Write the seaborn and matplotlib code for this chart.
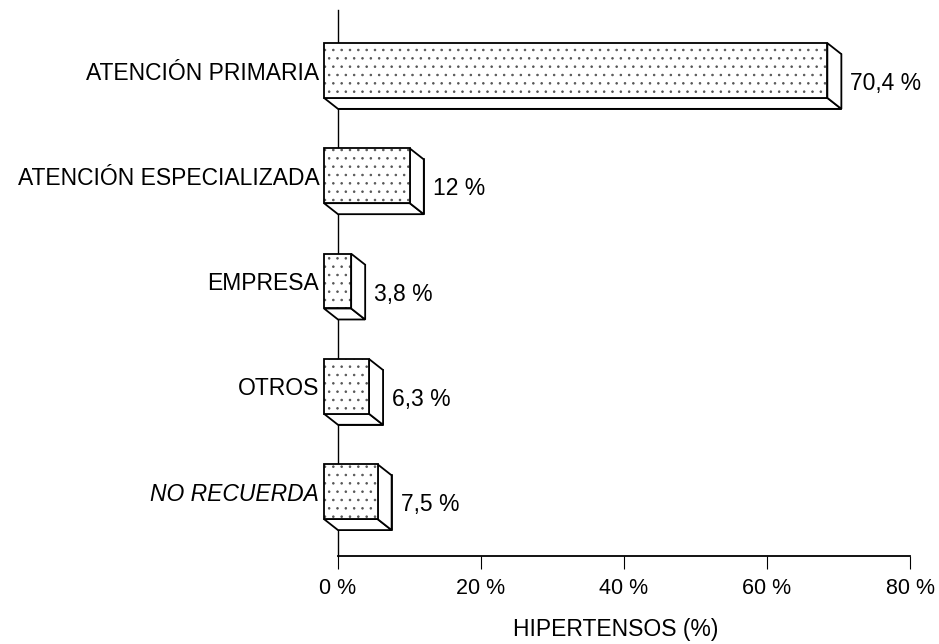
import matplotlib
matplotlib.use('Agg')
import matplotlib.pyplot as plt
import matplotlib.transforms as mtransforms
from matplotlib.patches import Polygon, Rectangle
import seaborn as sns
import pandas as pd

# data
categories = ['ATENCIÓN PRIMARIA', 'ATENCIÓN ESPECIALIZADA', 'EMPRESA', 'OTROS', 'NO RECUERDA']
percentages = [70.4, 12.0, 3.8, 6.3, 7.5]
value_labels = ['70,4 %', '12 %', '3,8 %', '6,3 %', '7,5 %']
x_ticks = [0, 20, 40, 60, 80]
x_tick_labels = ['0 %', '20 %', '40 %', '60 %', '80 %']

sns.set_style('white')
plt.rcParams['font.family'] = ['Liberation Sans', 'DejaVu Sans']
plt.rcParams['text.color'] = 'black'
plt.rcParams['axes.labelcolor'] = 'black'
plt.rcParams['xtick.color'] = 'black'
plt.rcParams['ytick.color'] = 'black'
plt.rcParams['hatch.linewidth'] = 0.6

DPI = 100
fig = plt.figure(figsize=(9.39, 6.44), dpi=DPI)
ax = fig.add_axes([338 / 939, 1 - 556 / 644, 572 / 939, 546 / 644])

df = pd.DataFrame({'origen': categories, 'pct': percentages})
sns.barplot(data=df, x='pct', y='origen', orient='h', width=0.52,
            color='white', edgecolor='black', linewidth=1.2,
            saturation=1, ax=ax, zorder=3)

ax.set_xlim(0, 80)
ax.set_ylim(4.506, -0.679)

# 3D look: the front face sits up-left of the bar drawn on the axis plane
dx, dy = 14, 11  # pixels
lw = 1.3
for bar in list(ax.patches):
    x0, y0 = bar.get_x(), bar.get_y()
    x1, y1 = x0 + bar.get_width(), y0 + bar.get_height()
    (lb, t1), (rb, t2) = ax.transData.transform([(x0, y0), (x1, y1)])
    tb, bb = max(t1, t2), min(t1, t2)
    lf, rf, tf, bf = lb - dx, rb - dx, tb + dy, bb + dy
    ident = mtransforms.IdentityTransform()
    bottom = Polygon([(lf, bf), (rf, bf), (rb, bb), (lb, bb)], closed=True,
                     fc='white', ec='black', lw=lw, transform=ident, zorder=4)
    side = Polygon([(rf, tf), (rb, tb), (rb, bb), (rf, bf)], closed=True,
                   fc='white', ec='black', lw=lw, transform=ident, zorder=4)
    front_fill = Rectangle((lf, bf), rf - lf, tf - bf, fc='white', ec='#555555',
                           lw=0, hatch='..', transform=ident, zorder=5)
    front_edge = Rectangle((lf, bf), rf - lf, tf - bf, fill=False, ec='black',
                           lw=lw, transform=ident, zorder=6)
    for p in (bottom, side, front_fill, front_edge):
        ax.add_artist(p)
        p.set_clip_on(False)

# value labels next to the bars
for i, (v, lab) in enumerate(zip(percentages, value_labels)):
    ax.annotate(lab, xy=(v, i), xytext=(9, -2), textcoords='offset pixels',
                ha='left', va='center', fontsize=16.5, zorder=7)

# category labels aligned with the front faces
ax.set_yticks([i - dy / 105.3 for i in range(len(categories))], labels=categories)
ax.tick_params(axis='y', left=False, length=0, pad=13.5, labelsize=16.5)
ax.get_yticklabels()[4].set_style('italic')

ax.set_xticks(x_ticks, labels=x_tick_labels)
ax.tick_params(axis='x', bottom=True, direction='out', length=9, width=0.8, pad=7,
               labelsize=15.5, color='black')
ax.set_xlabel('HIPERTENSOS (%)', fontsize=16.5)
ax.xaxis.set_label_coords(0.485, -0.113)
ax.set_ylabel('')

sns.despine(ax=ax, top=True, right=True)
ax.spines['left'].set_linewidth(1.0)
ax.spines['bottom'].set_linewidth(1.3)
ax.spines['left'].set_color('black')
ax.spines['bottom'].set_color('black')

fig.savefig('out.png', dpi=DPI)
